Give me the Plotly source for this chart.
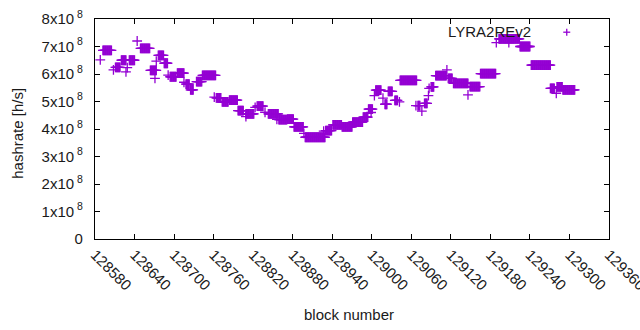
import plotly.graph_objects as go

# Runs of consecutive blocks sharing one hashrate reading
run_start = [128588, 128592, 128608, 128611, 128620, 128627, 128629, 128632, 128644, 128649,
             128664, 128671, 128673, 128676, 128685, 128691, 128694, 128705, 128715, 128718,
             128725, 128734, 128743, 128761, 128764, 128773, 128784, 128797, 128809, 128809,
             128823, 128826, 128838, 128843, 128856, 128859, 128872, 128882, 128897, 128899,
             128927, 128930, 128941, 128955, 128971, 128987, 128995, 128999, 129004, 129006,
             129017, 129020, 129025, 129035, 129042, 129043, 129067, 129070, 129076, 129080,
             129086, 129087, 129090, 129097, 129114, 129116, 129124, 129146, 129149, 129165,
             129189, 129193, 129208, 129225, 129242, 129271, 129280, 129281, 129290]
run_end = [128588, 128605, 128608, 128618, 128627, 128627, 128629, 128640, 128644, 128663,
           128673, 128671, 128673, 128684, 128690, 128691, 128703, 128715, 128715, 128723,
           128729, 128742, 128763, 128761, 128771, 128782, 128796, 128805, 128809, 128821,
           128823, 128835, 128838, 128858, 128856, 128871, 128881, 128896, 128897, 128929,
           128927, 128939, 128954, 128970, 128986, 128994, 129001, 128999, 129004, 129014,
           129017, 129023, 129031, 129039, 129042, 129068, 129067, 129073, 129076, 129084,
           129086, 129087, 129094, 129113, 129114, 129122, 129146, 129146, 129164, 129188,
           129189, 129224, 129208, 129240, 129271, 129277, 129280, 129289, 129308]
run_hashrate = [6.51e8, 6.86e8, 6.15e8, 6.24e8, 6.50e8, 6.08e8, 6.23e8, 6.50e8, 7.20e8, 6.93e8,
                6.13e8, 5.84e8, 6.47e8, 6.68e8, 6.39e8, 5.96e8, 5.90e8, 6.03e8, 5.70e8, 5.63e8,
                5.42e8, 5.72e8, 5.95e8, 5.16e8, 5.13e8, 4.99e8, 5.05e8, 4.67e8, 4.45e8, 4.55e8,
                4.79e8, 4.83e8, 4.61e8, 4.55e8, 4.35e8, 4.34e8, 4.36e8, 4.08e8, 3.84e8, 3.70e8,
                3.92e8, 3.94e8, 4.15e8, 4.08e8, 4.25e8, 4.43e8, 4.72e8, 4.60e8, 5.21e8, 5.41e8,
                5.12e8, 4.90e8, 5.37e8, 5.04e8, 4.99e8, 5.77e8, 4.85e8, 4.85e8, 4.65e8, 4.93e8,
                5.21e8, 5.48e8, 5.53e8, 5.94e8, 6.15e8, 5.84e8, 5.66e8, 5.24e8, 5.54e8, 6.01e8,
                7.14e8, 7.28e8, 7.14e8, 7.00e8, 6.32e8, 5.48e8, 5.30e8, 5.53e8, 5.42e8]

x_ticks = [128580, 128640, 128700, 128760, 128820, 128880, 128940, 129000,
           129060, 129120, 129180, 129240, 129300, 129360]
y_ticks = [0, 1e8, 2e8, 3e8, 4e8, 5e8, 6e8, 7e8, 8e8]
y_tick_text = ["0"] + ["%dx10<sup> 8</sup>" % k for k in range(1, 9)]

blocks, rates = [], []
for s, e, v in zip(run_start, run_end, run_hashrate):
    for b in range(s, e + 1):
        blocks.append(b)
        rates.append(v)

PURPLE = "#9400D3"
FONT = "Liberation Sans, Arial, sans-serif"
TXT = "#1a1a1a"

fig = go.Figure()
fig.add_trace(go.Scatter(
    x=blocks, y=rates, mode="markers", name="LYRA2REv2", showlegend=False,
    marker=dict(symbol="cross-thin", size=7, line=dict(color=PURPLE, width=1.3), color=PURPLE),
))

axis_common = dict(showline=True, linecolor="black", linewidth=1.3, mirror="ticks",
                   ticks="inside", ticklen=5, tickcolor="black", tickwidth=1,
                   showgrid=False, zeroline=False, automargin=False,
                   tickfont=dict(family=FONT, size=15, color=TXT))

fig.update_xaxes(range=[x_ticks[0], x_ticks[-1]], tickvals=x_ticks,
                 ticktext=[str(t) for t in x_ticks], tickangle=45,
                 ticklabeloverflow="allow", **axis_common)
fig.update_yaxes(range=[0, 8e8], tickvals=y_ticks, ticktext=y_tick_text,
                 ticklabelstandoff=8, **axis_common)

# axis titles
fig.add_annotation(xref="paper", yref="paper", x=0.494, y=-0.345, xanchor="center", yanchor="middle",
                   text="block number", showarrow=False, font=dict(family=FONT, size=15, color=TXT))
fig.add_annotation(xref="paper", yref="paper", x=-0.151, y=0.48, xanchor="center", yanchor="middle",
                   text="hashrate [h/s]", textangle=-90, showarrow=False,
                   font=dict(family=FONT, size=15, color=TXT))

# gnuplot-style key: text then sample marker
fig.add_annotation(xref="paper", yref="paper", x=0.852, y=0.941, xanchor="right", yanchor="middle",
                   text="LYRA2REv2", showarrow=False, font=dict(family=FONT, size=15, color=TXT))
kx, ky, dx, dy = 0.9178, 0.940, 0.0068, 0.0159
fig.add_shape(type="line", xref="paper", yref="paper", x0=kx - dx, x1=kx + dx, y0=ky, y1=ky,
              line=dict(color=PURPLE, width=1.3))
fig.add_shape(type="line", xref="paper", yref="paper", x0=kx, x1=kx, y0=ky - dy, y1=ky + dy,
              line=dict(color=PURPLE, width=1.3))

fig.update_layout(width=640, height=330, margin=dict(l=95, r=31, t=19, b=91),
                  paper_bgcolor="white", plot_bgcolor="white",
                  font=dict(family=FONT, size=15, color=TXT))

fig.write_html("out.html", config={"displayModeBar": False},
               post_script="document.body.style.margin='0';document.body.style.overflow='hidden';")
